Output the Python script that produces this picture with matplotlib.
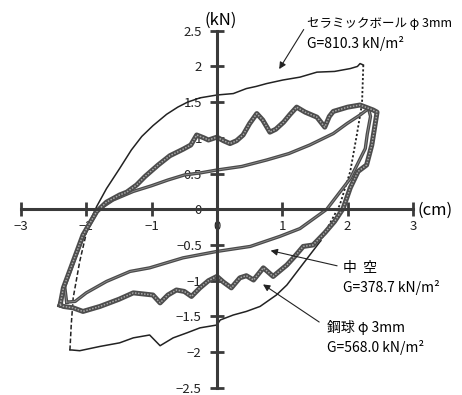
import matplotlib
matplotlib.use('Agg')
import matplotlib.pyplot as plt

plt.rcParams['font.family'] = ['Noto Sans CJK JP', 'DejaVu Sans']

# セラミックボール φ3mm (outer thin loop)
ceramic_x = [-2.25, -2.24, -2.23, -2.2, -2.1, -1.97, -1.84, -1.69, -1.49, -1.31, -1.15, -0.98, -0.77,
             -0.6, -0.45, -0.26, 0.0, 0.25, 0.45, 0.6, 0.76, 1.01, 1.27, 1.53, 1.8, 2.04, 2.15, 2.19, 2.24,
             2.22, 2.14, 2.04, 1.88, 1.58, 1.27, 1.07, 0.91, 0.66, 0.45, 0.25, 0.05, 0.0, -0.26, -0.46,
             -0.67, -0.87, -1.03, -1.28, -1.49, -1.79, -2.1, -2.22, -2.25]
ceramic_y = [-1.97, -1.8, -1.62, -1.24, -0.73, -0.22, 0.04, 0.29, 0.57, 0.83, 1.02, 1.17, 1.33,
             1.43, 1.5, 1.56, 1.6, 1.62, 1.69, 1.72, 1.76, 1.81, 1.85, 1.92, 1.93, 1.97, 2.0, 2.04, 2.02,
             1.48, 1.04, 0.53, 0.06, -0.45, -0.82, -1.06, -1.2, -1.36, -1.43, -1.48, -1.55, -1.62, -1.66, -1.73,
             -1.8, -1.91, -1.76, -1.8, -1.87, -1.92, -1.98, -1.97, -1.97]

# 鋼球 φ3mm (thick wavy loop)
steel_x = [-2.4, -2.35, -2.2, -2.05, -1.84, -1.69, -1.49, -1.38, -1.23, -1.1, -0.9, -0.72, -0.52, -0.4,
           -0.31, -0.2, -0.13, 0.0, 0.1, 0.2, 0.3, 0.4, 0.5, 0.61, 0.7, 0.81, 0.9, 1.02, 1.12, 1.22,
           1.35, 1.53, 1.65, 1.72, 1.78, 2.0, 2.19, 2.39, 2.45, 2.37, 2.29, 2.16, 2.04, 1.93, 1.8, 1.65,
           1.47, 1.32, 1.2, 1.07, 0.86, 0.71, 0.56, 0.45, 0.35, 0.22, 0.1, 0.0, -0.13, -0.26, -0.39, -0.5,
           -0.62, -0.75, -0.87, -0.98, -1.28, -1.5, -1.79, -2.05, -2.2, -2.35, -2.4]
steel_y = [-1.34, -1.1, -0.73, -0.36, -0.03, 0.1, 0.2, 0.24, 0.34, 0.46, 0.62, 0.75, 0.84, 0.9,
           1.04, 1.0, 0.97, 1.01, 0.96, 0.92, 0.96, 1.04, 1.2, 1.34, 1.25, 1.08, 1.12, 1.22, 1.33, 1.43,
           1.36, 1.29, 1.15, 1.3, 1.37, 1.43, 1.46, 1.39, 1.36, 0.9, 0.62, 0.53, 0.3, 0.01, -0.17, -0.33,
           -0.5, -0.52, -0.65, -0.78, -0.94, -0.82, -0.99, -0.93, -0.96, -1.1, -1.02, -0.94, -1.0, -1.1, -1.22, -1.15,
           -1.13, -1.2, -1.31, -1.2, -1.17, -1.26, -1.36, -1.43, -1.38, -1.36, -1.34]

# 中空 (smooth loop)
hollow_x = [-2.3, -2.33, -2.18, -2.02, -1.82, -1.59, -1.28, -1.0, -0.75, -0.5, -0.25, 0.0, 0.38, 0.76,
            1.1, 1.42, 1.78, 1.99, 2.19, 2.32, 2.35, 2.3, 2.27, 2.04, 1.68, 1.27, 0.96, 0.51, 0.0, -0.52,
            -1.03, -1.33, -1.69, -2.0, -2.17, -2.3]
hollow_y = [-1.3, -1.08, -0.7, -0.33, -0.01, 0.13, 0.25, 0.33, 0.41, 0.48, 0.51, 0.55, 0.6, 0.69,
            0.78, 0.9, 1.06, 1.2, 1.32, 1.41, 1.3, 1.05, 0.85, 0.43, 0.0, -0.27, -0.38, -0.52, -0.59, -0.68,
            -0.82, -0.87, -1.01, -1.17, -1.29, -1.3]

x_ticks = [-3, -2, -1, 0, 1, 2, 3]
y_ticks = [-2.5, -2, -1.5, -1, -0.5, 0, 0.5, 1, 1.5, 2, 2.5]
x_labels = ['\u22123', '\u22122', '\u22121', '0', '1', '2', '3']
y_labels = ['\u22122.5', '\u22122', '\u22121.5', '\u22121', '\u22120.5', '0', '0.5', '1', '1.5', '2', '2.5']

fig = plt.figure(figsize=(4.62, 3.95), dpi=100)
ax = fig.add_axes([0, 0, 1, 1])
ax.set_xlim(-3.32, 3.75)
ax.set_ylim(-2.6, 2.93)

# axes through origin
for s in ['top', 'right']:
    ax.spines[s].set_visible(False)
ax.spines['left'].set_position('zero')
ax.spines['bottom'].set_position('zero')
ax.spines['left'].set_bounds(-2.5, 2.5)
ax.spines['bottom'].set_bounds(-3, 3)
for s in ['left', 'bottom']:
    ax.spines[s].set_linewidth(2.2)
    ax.spines[s].set_color('#3a3a3a')
ax.set_xticks(x_ticks)
ax.set_xticklabels(x_labels)
ax.set_yticks(y_ticks)
ax.set_yticklabels(y_labels)
ax.tick_params(direction='inout', length=10, width=2, color='#3a3a3a', labelsize=9.5, labelcolor='#222222')
ax.tick_params(axis='x', pad=3)
ax.tick_params(axis='y', pad=6)

# loops
n1 = 29  # end of upper branch
ax.plot(ceramic_x[5:n1], ceramic_y[5:n1], color='#222222', lw=1.1)
ax.plot(ceramic_x[n1 - 1:34], ceramic_y[n1 - 1:34], color='#222222', lw=1.3, ls=(0, (1.2, 1.2)))
ax.plot(ceramic_x[33:], ceramic_y[33:], color='#222222', lw=1.1)
ax.plot(ceramic_x[:6], ceramic_y[:6], color='#222222', lw=1.1, ls=(0, (3, 1.5)))

ax.plot(hollow_x, hollow_y, color='#4a4a4a', lw=2.4, solid_joinstyle='round')
ax.plot(hollow_x, hollow_y, color='#8f8f8f', lw=0.6)
ax.plot(steel_x, steel_y, color='#4d4d4d', lw=3.6, solid_joinstyle='round')
ax.plot(steel_x, steel_y, color='#a8a8a8', lw=1.1, ls=(0, (1, 1)))

# axis units
ax.text(0.05, 2.65, '(kN)', fontsize=12, ha='center', va='center')
ax.text(3.34, -0.01, '(cm)', fontsize=12, ha='center', va='center')

# annotations
arrow = dict(arrowstyle='-|>', color='#222222', lw=0.8, mutation_scale=10)
ax.annotate('', xy=(0.93, 1.93), xytext=(1.35, 2.55), arrowprops=arrow)
ax.text(1.38, 2.6, 'セラミックボール φ 3mm', fontsize=9, va='center')
ax.text(1.38, 2.32, 'G=810.3 kN/m²', fontsize=10, va='center')

ax.annotate('', xy=(0.78, -0.57), xytext=(1.88, -0.8), arrowprops=arrow)
ax.text(1.93, -0.82, '中  空', fontsize=10, va='center')
ax.text(1.93, -1.1, 'G=378.7 kN/m²', fontsize=10, va='center')

ax.annotate('', xy=(0.67, -1.03), xytext=(1.6, -1.6), arrowprops=arrow)
ax.text(1.68, -1.66, '鋼球 φ 3mm', fontsize=10, va='center')
ax.text(1.68, -1.94, 'G=568.0 kN/m²', fontsize=10, va='center')

fig.savefig('out.png', dpi=100)
